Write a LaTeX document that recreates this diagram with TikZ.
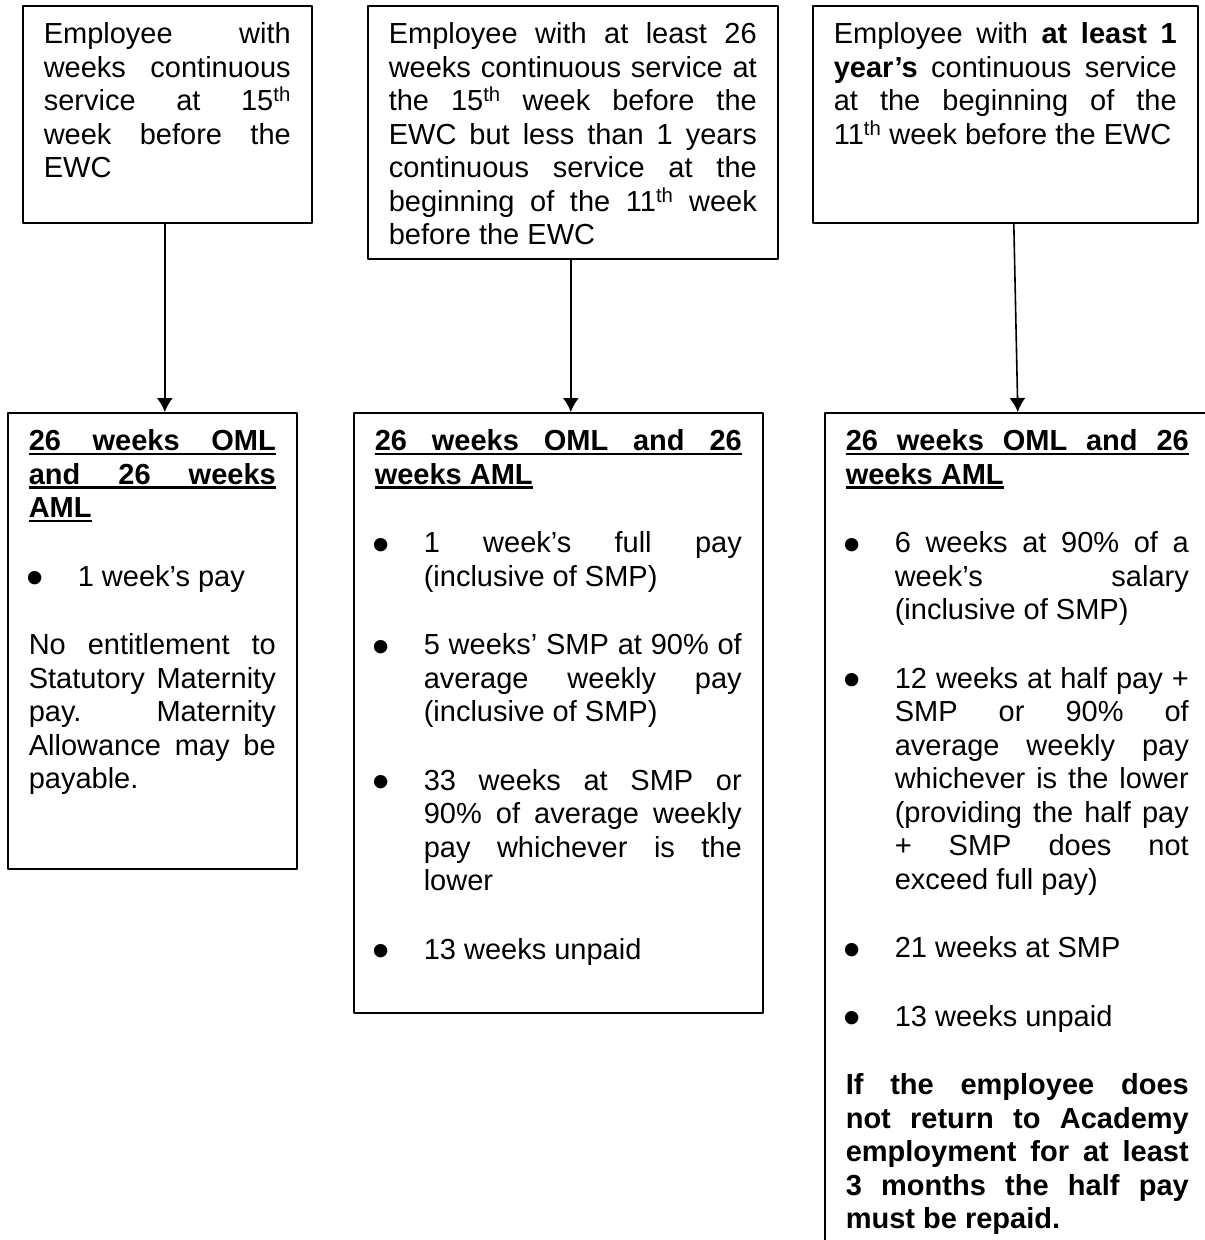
\documentclass[tikz,border=0pt]{standalone}
\usepackage{fontspec}
\setmainfont{Liberation Sans}
\usepackage{tikz}
\usetikzlibrary{arrows.meta}

\newcommand{\boxfont}{\fontsize{29pt}{33.5pt}\selectfont\frenchspacing
  \setlength{\parskip}{35pt}\tolerance=10000\hbadness=10000\relax}
\newcommand{\boxtext}[3]{\parbox[t][#1][t]{#2}{\boxfont\rule{0pt}{38pt}#3}}
\newcommand{\bul}{\hspace*{-2pt}\raisebox{-8.5pt}{\scalebox{1.7}{\textbullet}}}
\newcommand{\bitem}[1]{\par\noindent\hangindent=49pt\hangafter=1\makebox[49pt][l]{\bul}#1\par}
% underlined heading lines: full (justified) and last
\newcommand{\fullul}[1]{\rlap{\rule[-4.5pt]{\linewidth}{2.6pt}}\hbox to\linewidth{\spaceskip=.278em plus 1fil\relax #1}}
\newcommand{\partul}[1]{\setbox0\hbox{#1}\rlap{\rule[-4.5pt]{\wd0}{2.6pt}}\box0}

\begin{document}
\begin{tikzpicture}[x=1pt,y=-1pt,>={Latex[length=14pt,width=16pt]},line join=bevel,
  box/.style={draw,line width=1.6pt,inner xsep=21pt,inner ysep=0pt,anchor=north west},
  link/.style={->,line width=1.6pt}]
%%
\begin{scope}
  \useasboundingbox (0,0) rectangle (1205,1240);
  \fill[white] (0,0) rectangle (1205,1240);
\end{scope}
\clip (0,0) rectangle (1205,1240);
  % length of service
  \node (S1) at (22,5) [box] {\boxtext{217pt}{247pt}{Employee with\linebreak weeks continuous\linebreak service at 15\textsuperscript{th}\linebreak week before the\linebreak EWC}};
  \node (S2) at (367,5) [box] {\boxtext{253pt}{368pt}{Employee with at least 26\linebreak weeks continuous service at\linebreak the 15\textsuperscript{th} week before the\linebreak EWC but less than 1 years\linebreak continuous service at the\linebreak beginning of the 11\textsuperscript{th} week\linebreak before the EWC}};
  \node (S3) at (812,5) [box] {\boxtext{217pt}{343pt}{Employee with \textbf{at least 1\linebreak year’s} continuous service\linebreak at the beginning of the\linebreak 11\textsuperscript{th} week before the EWC}};
  % entitlement
  \node (P1) at (7,412) [box] {\boxtext{456pt}{247pt}{\textbf{\fullul{26 weeks OML}\\ \fullul{and 26 weeks}\\ \partul{AML}}
    \bitem{1 week’s pay}
    No entitlement to\linebreak Statutory Maternity\linebreak pay. Maternity\linebreak Allowance may be\linebreak payable.}};
  \node (P2) at (353,412) [box] {\boxtext{600pt}{367pt}{\textbf{\fullul{26 weeks OML and 26}\\ \partul{weeks AML}}
    \bitem{1 week’s full pay\linebreak (inclusive of SMP)}
    \bitem{5 weeks’ SMP at 90\% of\linebreak average weekly pay\linebreak (inclusive of SMP)}
    \bitem{33 weeks at SMP or\linebreak 90\% of average weekly\linebreak pay whichever is the\linebreak lower}
    \bitem{13 weeks unpaid}}};
  \node (P3) at (824,412) [box] {\boxtext{900pt}{343pt}{\textbf{\fullul{26 weeks OML and 26}\\ \partul{weeks AML}}
    \bitem{6 weeks at 90\% of a\linebreak week’s salary\linebreak (inclusive of SMP)}
    \bitem{12 weeks at half pay +\linebreak SMP or 90\% of\linebreak average weekly pay\linebreak whichever is the lower\linebreak (providing the half pay\linebreak + SMP does not\linebreak exceed full pay)}
    \bitem{21 weeks at SMP}
    \bitem{13 weeks unpaid}
    \textbf{If the employee does\linebreak not return to Academy\linebreak employment for at least\linebreak 3 months the half pay\linebreak must be repaid.}}};
  \draw [link] ([xshift=-2.5pt]S1.south) -- ([xshift=12.5pt]P1.north);
  \draw [link] ([xshift=-2pt]S2.south) -- ([xshift=12.5pt]P2.north);
  \draw [link] ([xshift=8.5pt]S3.south) -- ([xshift=0.5pt]P3.north);
%
\end{tikzpicture}
\end{document}
